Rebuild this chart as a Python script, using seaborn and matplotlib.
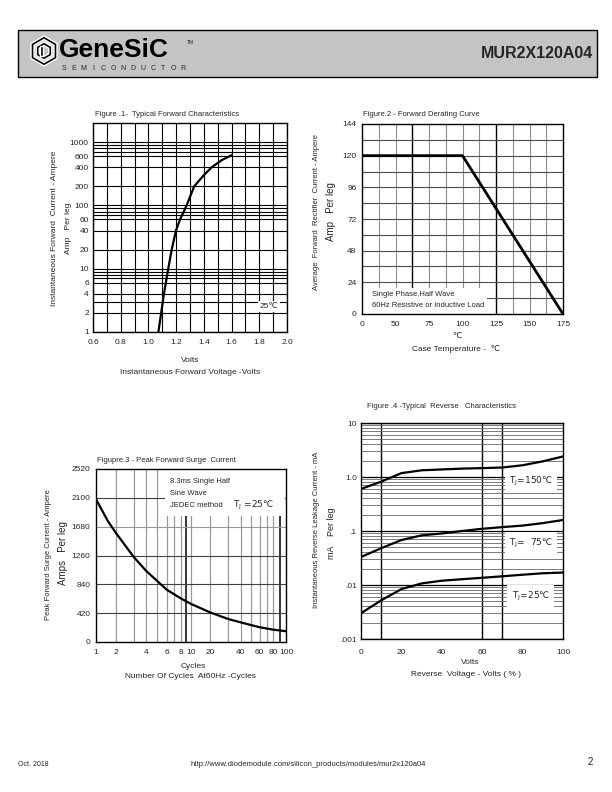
import numpy as np
import pandas as pd
import matplotlib
matplotlib.use("Agg")
import matplotlib.pyplot as plt
import seaborn as sns
from matplotlib.patches import Rectangle, RegularPolygon
from matplotlib.ticker import FixedLocator, NullFormatter

# fig 1 - forward characteristics
fwd_volts = [1.072, 1.112, 1.143, 1.168, 1.199, 1.228, 1.276, 1.33, 1.40, 1.457, 1.53, 1.60]
fwd_amps = [1, 4, 10, 20, 40, 60, 100, 200, 300, 400, 520, 620]
f1_xticks = [0.6, 0.8, 1.0, 1.2, 1.4, 1.6, 1.8, 2.0]
f1_xlabels = ["0.6", "0.8", "1.0", "1.2", "1.4", "1.6", "1.8", "2.0"]
f1_yticks = [1, 2, 4, 6, 10, 20, 40, 60, 100, 200, 400, 600, 1000]

# fig 2 - derating curve
case_temp = [0, 100, 175]
avg_current = [120, 120, 0]
f2_xticks = [0, 50, 75, 100, 125, 150, 175]
f2_yticks = [0, 24, 48, 72, 96, 120, 144]

# fig 3 - surge current
cycles = [1, 1.5, 2, 3, 4, 6, 8, 10, 20, 30, 40, 60, 80, 100]
surge = [2080, 1760, 1580, 1240, 1040, 760, 635, 555, 430, 335, 285, 215, 180, 157]
f3_xticks = [1, 2, 4, 6, 8, 10, 20, 40, 60, 80, 100]
# where the printed grid puts its labels (pixels from the left edge)
f3_xscale_pos = [0, 60, 147, 209, 250, 280, 337, 427, 482, 522, 560]
f3_yticks = [0, 420, 840, 1260, 1680, 2100, 2520]

# fig 4 - reverse characteristics
rev_pct = [0, 10, 20, 30, 40, 50, 60, 70, 80, 90, 100]
leak_150 = [0.6, 0.82, 1.18, 1.33, 1.38, 1.43, 1.46, 1.5, 1.65, 1.95, 2.4]
leak_75 = [0.033, 0.048, 0.068, 0.083, 0.09, 0.1, 0.11, 0.118, 0.126, 0.14, 0.16]
leak_25 = [0.003, 0.0052, 0.0084, 0.0107, 0.012, 0.0128, 0.0136, 0.0145, 0.0155, 0.0165, 0.017]
f4_yticks = [0.001, 0.01, 0.1, 1.0, 10]
f4_ylabels = [".001", ".01", ".1", "1.0", "10"]

sns.set_style("white")
plt.rcParams["font.family"] = ["Liberation Sans", "DejaVu Sans"]

W, H = 612, 792
fig = plt.figure(figsize=(6.12, 7.92), dpi=100)

# page layer in pixel coordinates
page = fig.add_axes([0, 0, 1, 1])
page.set_xlim(0, W)
page.set_ylim(H, 0)
page.axis("off")


def box(x0, y0, x1, y1):
    return [x0 / W, 1 - y1 / H, (x1 - x0) / W, (y1 - y0) / H]


def log_interp_scale(vals, pos):
    # piecewise log scale that follows the hand drawn grid of the datasheet
    lv = np.log10(np.asarray(vals, dtype=float))
    p = np.asarray(pos, dtype=float) / pos[-1]

    def fwd(x):
        x = np.clip(np.asarray(x, dtype=float), 1e-12, None)
        return np.interp(np.log10(x), lv, p)

    def inv(t):
        return 10 ** np.interp(np.asarray(t, dtype=float), p, lv)

    return fwd, inv


def style_axes(ax, xpad, ypad):
    ax.set_axisbelow(True)
    for s in ax.spines.values():
        s.set_color("black")
        s.set_linewidth(1.0)
    ax.tick_params(which="both", length=0, labelsize=6)
    ax.tick_params(axis="x", pad=xpad)
    ax.tick_params(axis="y", pad=ypad)
    ax.set_xlabel("")
    ax.set_ylabel("")


def tj(txt):
    return r"T$_{\mathrm{J}}$" + txt


# header
page.add_patch(Rectangle((18, 30), 579, 47, facecolor="#c4c4c4", edgecolor="black", lw=1.0))
page.add_patch(RegularPolygon((44, 51), 6, radius=15, facecolor="black", orientation=0))
page.add_patch(RegularPolygon((44, 51), 6, radius=11.5, facecolor="#c4c4c4", orientation=0))
page.add_patch(RegularPolygon((44, 51), 6, radius=9, facecolor="black", orientation=0))
page.add_patch(RegularPolygon((44, 51), 6, radius=5.5, facecolor="#c4c4c4", orientation=0))
page.add_patch(Rectangle((40, 46), 3, 10, facecolor="black"))
page.text(59, 50, "GeneSiC", fontsize=19, fontweight="bold", va="center", ha="left", color="black")
page.text(187, 42, "TM", fontsize=3.5, va="center", ha="left")
for i, ch in enumerate("SEMICONDUCTOR"):
    page.text(64 + i * 9.9, 68, ch, fontsize=5, va="center", ha="center")
page.text(593, 54, "MUR2X120A04", fontsize=11.5, fontweight="bold", va="center", ha="right")

# ---------------- figure 1 ----------------
ax1 = fig.add_axes(box(93, 123, 287, 332))
df1 = pd.DataFrame({"V": fwd_volts, "A": fwd_amps})
sns.lineplot(data=df1, x="V", y="A", ax=ax1, color="black", lw=1.6, sort=False)
ax1.set_yscale("log")
ax1.set_xlim(0.6, 2.0)
ax1.set_ylim(1, 2000)
ax1.set_xticks(f1_xticks)
ax1.set_xticklabels(f1_xlabels)
ax1.set_xticks(np.arange(0.6, 2.01, 0.1), minor=True)
ax1.yaxis.set_major_locator(FixedLocator(f1_yticks))
ax1.set_yticklabels([str(v) for v in f1_yticks])
ax1.yaxis.set_minor_locator(FixedLocator([3, 7, 8, 9, 70, 80, 90, 700, 800, 900]))
ax1.yaxis.set_minor_formatter(NullFormatter())
ax1.grid(which="both", color="black", lw=0.8)
style_axes(ax1, 5, 3)
ax1.text(1.87, 2.5, "25\u2103", fontsize=6, ha="center", va="center",
         bbox=dict(facecolor="white", edgecolor="none", pad=1.5))

page.text(95, 115, "Figure .1-  Typical Forward Characteristics", fontsize=5.5, va="center")
page.text(55, 228, "Instantaneous Forward  Current - Ampere", fontsize=6, rotation=90, ha="center", va="center")
page.text(68, 228, "Amp   Per leg", fontsize=6, rotation=90, ha="center", va="center")
page.text(190, 361, "Volts", fontsize=6, ha="center", va="center")
page.text(190, 373, "Instantaneous Forward Voltage -Volts", fontsize=6, ha="center", va="center")

# ---------------- figure 2 ----------------


def fwd_t(x):
    x = np.asarray(x, dtype=float)
    return np.where(x <= 50, x / 50.0, 1 + (x - 50) / 25.0)


def inv_t(t):
    t = np.asarray(t, dtype=float)
    return np.where(t <= 1, t * 50.0, 50 + (t - 1) * 25.0)


ax2 = fig.add_axes(box(362, 124, 563, 314))
ax2.set_xscale("function", functions=(fwd_t, inv_t))
df2 = pd.DataFrame({"T": case_temp, "I": avg_current})
sns.lineplot(data=df2, x="T", y="I", ax=ax2, color="black", lw=2.0, sort=False)
ax2.set_xlim(0, 175)
ax2.set_ylim(0, 144)
ax2.set_xticks(f2_xticks)
ax2.set_xticklabels([str(v) for v in f2_xticks])
ax2.set_yticks(f2_yticks)
ax2.set_yticklabels([str(v) for v in f2_yticks])
for t in np.arange(0.5, 6.0, 0.5):
    xv = float(inv_t(t))
    dark = t in (1.5, 4.0)
    ax2.axvline(xv, color="black" if dark else "0.55", lw=1.0 if dark else 0.8, zorder=0.5)
for yv in np.arange(12, 144, 12):
    ax2.axhline(yv, color="0.3", lw=0.8, zorder=0.5)
style_axes(ax2, 5, 4)
ax2.add_patch(Rectangle((0.0, 0.0), 0.62, 0.135, transform=ax2.transAxes,
                        facecolor="white", edgecolor="none", zorder=1))
ax2.text(0.05, 0.10, "Single Phase,Half Wave", transform=ax2.transAxes, fontsize=5.5, va="center", zorder=3)
ax2.text(0.05, 0.045, "60Hz Resistive or Inductive Load", transform=ax2.transAxes, fontsize=5.5, va="center", zorder=3)

page.text(363, 115, "Figure.2 - Forward Derating Curve", fontsize=5.5, va="center")
page.text(316, 212, "Average  Forward  Rectifier  Current - Ampere", fontsize=5.5, rotation=90, ha="center", va="center")
page.text(331, 212, "Amp   Per leg", fontsize=7, rotation=90, ha="center", va="center")
page.text(457, 337, "\u2103", fontsize=6, ha="center", va="center")
page.text(456, 349, "Case Temperature -  \u2103", fontsize=6, ha="center", va="center")

# ---------------- figure 3 ----------------
ax3 = fig.add_axes(box(96, 469, 286, 642))
ax3.set_xscale("function", functions=log_interp_scale(f3_xticks, f3_xscale_pos))
df3 = pd.DataFrame({"N": cycles, "I": surge})
sns.lineplot(data=df3, x="N", y="I", ax=ax3, color="black", lw=1.6, sort=False)
ax3.set_xlim(1, 100)
ax3.set_ylim(0, 2520)
ax3.xaxis.set_major_locator(FixedLocator(f3_xticks))
ax3.set_xticklabels([str(v) for v in f3_xticks])
ax3.xaxis.set_minor_locator(FixedLocator([]))
ax3.set_yticks(f3_yticks)
ax3.set_yticklabels([str(v) for v in f3_yticks])
for xv in [2, 3, 4, 5, 6, 7, 8, 9, 10, 20, 30, 40, 50, 60, 70, 80, 90]:
    dark = xv in (9, 90)
    ax3.axvline(xv, color="black" if dark else "0.6", lw=1.1 if dark else 0.9, zorder=0.5)
for yv in f3_yticks[1:-1]:
    ax3.axhline(yv, color="0.6" if yv == 1680 else "0.25", lw=0.8, zorder=0.5)
style_axes(ax3, 5, 4)
ax3.add_patch(Rectangle((0.365, 0.73), 0.63, 0.265, transform=ax3.transAxes,
                        facecolor="white", edgecolor="none", zorder=1))
ax3.text(0.39, 0.93, "8.3ms Single Half", transform=ax3.transAxes, fontsize=5.5, va="center", zorder=3)
ax3.text(0.39, 0.86, "Sine Wave", transform=ax3.transAxes, fontsize=5.5, va="center", zorder=3)
ax3.text(0.39, 0.79, "JEDEC method", transform=ax3.transAxes, fontsize=5.5, va="center", zorder=3)
ax3.text(0.72, 0.79, tj(" =25\u2103"), transform=ax3.transAxes, fontsize=6.5,
         va="center", zorder=3, family="DejaVu Sans")

page.text(97, 461, "Figupre.3 - Peak Forward Surge  Current", fontsize=5.5, va="center")
page.text(49, 555, "Peak Forward Surge Current - Ampere", fontsize=5.5, rotation=90, ha="center", va="center")
page.text(63, 553, "Amps   Per leg", fontsize=7, rotation=90, ha="center", va="center")
page.text(193, 666, "Cycles", fontsize=6, ha="center", va="center")
page.text(190, 677, "Number Of Cycles  At60Hz -Cycles", fontsize=6, ha="center", va="center")

# ---------------- figure 4 ----------------
ax4 = fig.add_axes(box(361, 423, 563, 639))
df4 = pd.DataFrame({"V": rev_pct * 3,
                    "I": leak_150 + leak_75 + leak_25,
                    "T": ["150"] * len(rev_pct) + ["75"] * len(rev_pct) + ["25"] * len(rev_pct)})
sns.lineplot(data=df4, x="V", y="I", units="T", estimator=None, ax=ax4, color="black", lw=1.6)
ax4.set_yscale("log")
ax4.set_xlim(0, 100)
ax4.set_ylim(0.001, 10)
ax4.set_xticks([0, 20, 40, 60, 80, 100])
ax4.set_xticklabels(["0", "20", "40", "60", "80", "100"])
ax4.yaxis.set_major_locator(FixedLocator(f4_yticks))
ax4.set_yticklabels(f4_ylabels)
minor4 = [m * 10.0 ** e for e in range(-3, 1) for m in range(2, 10)]
ax4.yaxis.set_minor_locator(FixedLocator(minor4))
ax4.yaxis.set_minor_formatter(NullFormatter())
ax4.grid(which="major", axis="y", color="black", lw=0.9)
ax4.grid(which="minor", axis="y", color="0.4", lw=0.6)
for xv in [10, 60, 70]:
    ax4.axvline(xv, color="black", lw=1.0, zorder=0.5)
style_axes(ax4, 7, 3)
for yv, lab in [(0.731, tj("=150\u2103")),
                (0.444, tj("=  75\u2103")),
                (0.199, tj("=25\u2103"))]:
    ax4.text(0.84, yv, lab, transform=ax4.transAxes, fontsize=6.5, ha="center", va="center", zorder=3,
             family="DejaVu Sans", bbox=dict(facecolor="white", edgecolor="none", pad=3))

page.text(367, 407, "Figure .4 -Typical  Reverse   Characteristics", fontsize=5.5, va="center")
page.text(317, 530, "Instantaneous Reverse Leakage Current - mA", fontsize=5.5, rotation=90, ha="center", va="center")
page.text(331, 533, "mA    Per leg", fontsize=6.5, rotation=90, ha="center", va="center")
page.text(470, 663, "Volts", fontsize=6, ha="center", va="center")
page.text(466, 675, "Reverse  Voltage - Volts ( % )", fontsize=6, ha="center", va="center")

# footer
page.text(18, 764, "Oct. 2018", fontsize=5, va="center")
page.text(308, 764, "http://www.diodemodule.com/silicon_products/modules/mur2x120a04", fontsize=5.5,
          ha="center", va="center")
page.text(590, 762, "2", fontsize=7, va="center", ha="center")

fig.savefig("out.png", dpi=100)
